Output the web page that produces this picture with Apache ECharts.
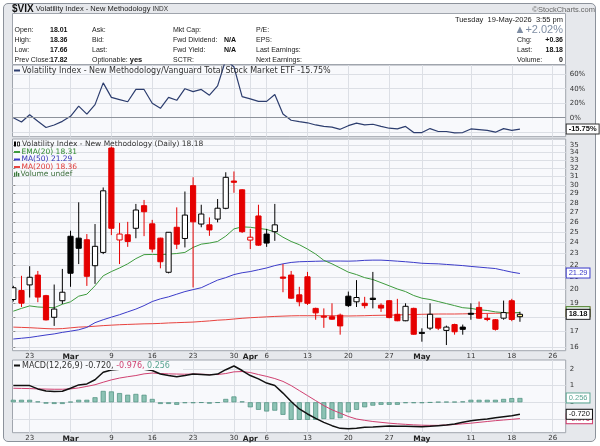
<!DOCTYPE html>
<html><head><meta charset="utf-8">
<script src="https://cdn.jsdelivr.net/npm/echarts@6.0.0/dist/echarts.min.js"></script>
<style>
html,body{margin:0;padding:0;background:#fff;}
#frame{position:absolute;left:3px;top:3px;width:593px;height:439px;background:#e6e8ec;border:1px solid #8c929b;border-radius:5px;box-sizing:border-box;}
#chart{position:absolute;left:0;top:0;width:600px;height:446px;}
</style></head><body>
<div id="frame"></div><div id="chart"></div>
<script>
// ---------- data ----------
const dates = ['2026-02-19','2026-02-20','2026-02-23','2026-02-24','2026-02-25','2026-02-26','2026-02-27',
'2026-03-02','2026-03-03','2026-03-04','2026-03-05','2026-03-06','2026-03-09','2026-03-10','2026-03-11','2026-03-12','2026-03-13',
'2026-03-16','2026-03-17','2026-03-18','2026-03-19','2026-03-20','2026-03-23','2026-03-24','2026-03-25','2026-03-26','2026-03-27',
'2026-03-30','2026-03-31','2026-04-01','2026-04-02','2026-04-06','2026-04-07','2026-04-08','2026-04-09','2026-04-10',
'2026-04-13','2026-04-14','2026-04-15','2026-04-16','2026-04-17','2026-04-20','2026-04-21','2026-04-22','2026-04-23','2026-04-24',
'2026-04-27','2026-04-28','2026-04-29','2026-04-30','2026-05-01','2026-05-04','2026-05-05','2026-05-06','2026-05-07','2026-05-08',
'2026-05-11','2026-05-12','2026-05-13','2026-05-14','2026-05-15','2026-05-18','2026-05-19'];
const futureDates = ['2026-05-20','2026-05-21','2026-05-22','2026-05-26','2026-05-27'];
const tickDates = ['2026-02-23','2026-03-02','2026-03-09','2026-03-16','2026-03-23','2026-03-30','2026-04-01','2026-04-06',
'2026-04-13','2026-04-20','2026-04-27','2026-05-01','2026-05-11','2026-05-18','2026-05-26'];
const tickLabels = ['23','Mar','9','16','23','30','Apr','6','13','20','27','May','11','18','26'];
const priceTicks = [16,17,18,19,20,21,22,23,24,25,26,27,28,29,30,31,32,33,34,35];
const ratioTicks = [-20,0,20,40,60];
const macdTicks = [-1,0,1,2];

const open  = [19.25,19.93,20.37,21.16,19.54,17.97,19.16,24.59,24.41,24.26,21.94,23.1,34.6,24.24,24.73,25.36,27.68,25.8,24.41,21.39,
25.46,24.38,29.91,25.78,25.7,26.28,27.4,30.45,29.43,24.23,26.6,24.8,25.03,21.0,21.16,19.6,21.02,18.6,18.05,18.01,
18.12,19.5,19.08,18.97,19.35,18.83,19.16,18.18,17.73,18.6,16.95,17.23,17.9,17.08,17.47,17.3,18.25,18.67,17.9,17.8,17.91,19.16,18.01];
const high  = [20.3,21.1,21.9,21.5,19.6,20.4,21.67,25.12,28.04,24.8,25.78,29.7,34.8,25.9,26.0,27.87,28.3,26.2,24.45,25.0,
27.5,29.24,30.9,27.78,26.45,28.4,31.5,31.6,29.5,25.3,27.78,25.3,27.87,22.08,21.5,20.22,21.42,18.65,18.6,18.97,
18.23,19.85,20.75,19.45,21.42,18.97,19.2,19.3,18.97,18.65,17.22,18.97,17.92,17.4,17.53,17.47,18.97,19.1,18.23,17.85,19.17,19.3,18.36];
const low   = [19.1,18.7,19.4,19.05,17.75,17.38,18.92,20.22,22.08,20.29,20.45,22.95,24.7,22.08,23.6,24.4,24.6,23.1,21.72,21.3,
23.4,23.55,20.17,25.46,24.63,25.95,27.3,29.1,24.9,23.4,23.7,23.6,24.16,19.8,19.3,18.75,18.85,17.8,17.25,17.8,
16.8,18.7,18.7,18.6,18.6,18.35,17.9,17.7,17.7,16.8,16.35,17.1,17.1,16.14,16.8,16.8,17.8,17.87,17.7,17.07,17.8,17.7,17.66];
const close = [20.15,18.98,20.98,19.43,17.79,18.55,19.8,21.31,23.47,21.06,23.65,29.32,25.36,24.8,24.1,27.22,27.04,23.4,22.28,24.97,
23.85,26.69,26.0,26.8,25.2,27.41,30.89,30.3,25.03,24.5,23.76,23.95,25.7,20.9,19.35,19.08,18.97,18.28,17.98,17.84,
17.38,18.8,19.4,18.8,19.25,18.62,17.95,17.73,18.75,16.83,16.9,18.18,17.23,17.3,16.99,17.15,18.18,17.91,17.82,17.15,18.3,17.82,18.18];

const ema20 = [18.4,18.6,18.78,18.7,18.67,18.65,18.9,19.08,19.5,19.65,20.3,21.1,21.45,21.75,22.1,22.55,22.9,22.92,22.9,22.95,
23.0,23.1,23.55,23.85,23.95,24.1,24.6,25.3,25.5,25.46,25.35,25.25,25.0,24.5,24.1,23.8,23.4,22.95,22.4,22.1,
21.75,21.4,21.2,20.95,20.8,20.55,20.3,20.05,19.85,19.55,19.35,19.25,19.1,18.95,18.8,18.65,18.6,18.5,18.45,18.35,18.3,18.28,18.31];
const ma50 = [16.52,16.57,16.62,16.7,16.78,16.85,16.95,17.03,17.12,17.28,17.6,17.8,17.98,18.15,18.35,18.55,18.8,19.1,19.3,19.45,
19.65,19.85,20.0,20.15,20.45,20.75,20.95,21.2,21.35,21.45,21.6,21.75,21.95,22.1,22.22,22.28,22.3,22.32,22.34,22.34,
22.34,22.33,22.35,22.4,22.42,22.42,22.38,22.33,22.28,22.22,22.15,22.12,22.1,22.05,22.0,21.95,21.88,21.82,21.76,21.7,21.55,21.4,21.29];
const ma200 = [17.3,17.28,17.26,17.23,17.2,17.18,17.2,17.25,17.3,17.32,17.36,17.4,17.43,17.46,17.48,17.5,17.52,17.53,17.55,17.58,
17.6,17.62,17.64,17.68,17.72,17.77,17.8,17.85,17.9,17.94,17.97,18.0,18.03,18.05,18.07,18.08,18.08,18.08,18.08,18.08,
18.07,18.06,18.07,18.08,18.1,18.11,18.12,18.13,18.15,18.16,18.18,18.19,18.2,18.2,18.2,18.21,18.22,18.23,18.24,18.25,18.26,18.28,18.3];
const ma200Last = 18.36;

const ratioPct = [0,-6,4,-5,-13.5,-10,-5,2,16,5,18,48,28,25,22,39,39,20,13,28,24,40,36,39,31,44,80,70,29,26,
22.5,22.5,32,5,-3.5,-5.5,-7,-10,-12,-13,-16,-11,-7.5,-10,-9,-12,-14.5,-15.5,-12,-20.5,-20.5,-15,-19,-19,-21,-20.5,
-15.5,-16.5,-17.5,-20,-15,-17.5,-15.75];

const macd = [1.0,1.0,1.0,0.8,0.68,0.64,0.66,0.84,1.04,1.1,1.35,1.8,1.93,1.97,2.0,2.0,1.97,1.9,1.69,1.6,
1.53,1.6,1.69,1.66,1.63,1.69,1.95,2.17,1.9,1.6,1.4,1.15,1.0,0.55,0.05,-0.4,-0.7,-0.96,-1.2,-1.4,
-1.56,-1.58,-1.55,-1.5,-1.48,-1.45,-1.42,-1.43,-1.44,-1.45,-1.46,-1.44,-1.4,-1.36,-1.3,-1.2,-1.1,-1.05,-1.0,-0.93,-0.86,-0.8,-0.72];
const macdSignal = [0.84,0.83,0.82,0.8,0.79,0.78,0.78,0.8,0.86,0.95,1.05,1.2,1.34,1.45,1.53,1.6,1.7,1.75,1.72,1.7,
1.69,1.68,1.69,1.68,1.66,1.66,1.72,1.82,1.84,1.78,1.66,1.55,1.42,1.25,1.0,0.7,0.4,0.1,-0.2,-0.45,
-0.65,-0.85,-1.0,-1.08,-1.15,-1.2,-1.25,-1.29,-1.32,-1.35,-1.37,-1.38,-1.38,-1.36,-1.33,-1.29,-1.25,-1.2,-1.15,-1.1,-1.06,-1.02,-0.976];
const macdHist = [0.15,0.15,0.15,0.05,-0.08,-0.1,-0.1,0.03,0.15,0.15,0.3,0.68,0.65,0.55,0.45,0.5,0.45,0.2,-0.1,-0.1,
-0.15,-0.05,-0.05,-0.03,-0.08,-0.03,0.2,0.35,0.05,-0.3,-0.45,-0.55,-0.5,-0.75,-1.05,-1.05,-1.05,-1.05,-1.0,-1.0,
-0.95,-0.6,-0.45,-0.3,-0.2,-0.15,-0.15,-0.15,-0.05,-0.05,-0.05,-0.02,0.02,0.03,0.03,0.05,0.15,0.15,0.15,0.15,0.2,0.25,0.256];

// ---------- build ----------
const FONT = 'DejaVu Sans', HFONT = 'Liberation Sans';
const RED = '#e50000', BLK = '#000000';
const GRIDC = '#dcdfe5';
const L = Math.log;
const n = dates.length, last = n - 1;
const axisDates = dates.concat(futureDates);
const tickIdx = tickDates.map(d => axisDates.indexOf(d));
const tickMap = {}; tickIdx.forEach((k, j) => { tickMap[k] = tickLabels[j]; });

// StockCharts colouring: red if close < previous close, hollow if close > open
const candleCol = close.map((c, i) => (i > 0 && c < close[i - 1]) ? RED : BLK);
const candleFill = close.map((c, i) => i === last ? '#fff59a' : (c < open[i] ? candleCol[i] : '#ffffff'));
const candleData = dates.map((d, i) => [i, L(open[i]), L(close[i]), L(low[i]), L(high[i])]);

function renderCandle(params, api) {
  const i = api.value(0);
  const pO = api.coord([i, api.value(1)]), pC = api.coord([i, api.value(2)]);
  const pL = api.coord([i, api.value(3)]), pH = api.coord([i, api.value(4)]);
  const k = params.dataIndex, col = candleCol[k];
  const x = pO[0];
  const top = Math.min(pO[1], pC[1]), bot = Math.max(pO[1], pC[1]);
  const hw = 2.6;
  return { type: 'group', children: [
    { type: 'line', shape: { x1: x, y1: pH[1], x2: x, y2: pL[1] }, style: { stroke: col, lineWidth: 1 } },
    { type: 'rect', shape: { x: x - hw, y: top, width: hw * 2, height: Math.max(bot - top, 1) },
      style: { fill: candleFill[k], stroke: col, lineWidth: 1 } }
  ] };
}
const xy = (arr, f) => arr.map((v, i) => [i, f ? f(v) : v]);

function flagItem(value, text, border, textColor, bold) {
  return { yAxis: value, lineStyle: { color: 'rgba(0,0,0,0)', width: 0 },
    label: { show: true, position: 'end', distance: 1, formatter: text, color: textColor,
      fontSize: 7.5, fontFamily: HFONT, fontWeight: bold ? 'bold' : 'normal', backgroundColor: '#ffffff',
      borderColor: border, borderWidth: 1, padding: [1, 2, 0, 2] } };
}
function flags(items) {
  return { silent: true, symbol: 'none', animation: false, z: 10, data: items };
}

const xLabelCommon = { customValues: tickIdx, margin: 2, fontSize: 7, color: '#333', fontFamily: FONT,
  formatter: v => { const t = tickMap[Math.round(v)] || ''; return /^[A-Z]/.test(t) ? '{m|' + t + '}' : t; },
  rich: { m: { fontWeight: 'bold', fontSize: 7.5, color: '#222', fontFamily: FONT } } };
function xAx(g, showLab) {
  return { type: 'value', gridIndex: g, min: -0.1, max: 67.6,
    axisLine: { show: false }, axisTick: { show: false, customValues: tickIdx },
    splitLine: { show: true, lineStyle: { color: GRIDC, width: 1 } },
    axisLabel: Object.assign({ show: showLab }, xLabelCommon) };
}
const yLab = { margin: 4, fontSize: 7, color: '#333', fontFamily: FONT };
const gridBase = { show: true, backgroundColor: '#f8f9fc', borderColor: '#a0a5ad', borderWidth: 1, left: 12.5, width: 553.2 };

const pct = ((close[last] / close[last - 1] - 1) * 100);
const chg = close[last] - close[last - 1];

const rowsY = [30, 40, 50, 60];
const LF = '8px ' + FONT, LF2 = '7.5px ' + FONT;
const gtxt = (text, x, y, opts) => Object.assign({ type: 'text', z: 100, silent: true,
  style: Object.assign({ text: text, x: x, y: y, fill: '#222', font: '7px ' + HFONT, verticalAlign: 'middle', align: 'left' }, opts || {}) });
const bold = { font: 'bold 7px ' + HFONT, align: 'right', fill: '#111' };
const graphics = [
  { type: 'rect', z: 1, silent: true, shape: { x: 12.5, y: 13.5, width: 553, height: 51 }, style: { fill: '#ffffff', stroke: '#a0a5ad', lineWidth: 1 } },
  gtxt('{b|$VIX} Volatility Index - New Methodology {s|INDX}', 12, 9, { font: '7.5px ' + HFONT,
    rich: { b: { fontWeight: 'bold', fontSize: 10, fontFamily: HFONT, fill: '#111' }, s: { fontSize: 6.5, fontFamily: HFONT, fill: '#333' } } }),
  gtxt('\u00a9StockCharts.com', 595, 9.5, { align: 'right', fill: '#666', font: '7.5px ' + HFONT }),
  gtxt('Tuesday  19-May-2026  3:55 pm', 563, 19.5, { align: 'right', font: '7.5px ' + HFONT }),
  gtxt('Open:', 14.5, rowsY[0]), gtxt('High:', 14.5, rowsY[1]), gtxt('Low:', 14.5, rowsY[2]), gtxt('Prev Close:', 14.5, rowsY[3]),
  gtxt(open[last].toFixed(2), 67.5, rowsY[0], bold),
  gtxt(high[last].toFixed(2), 67.5, rowsY[1], bold),
  gtxt(low[last].toFixed(2), 67.5, rowsY[2], bold),
  gtxt(close[last - 1].toFixed(2), 67.5, rowsY[3], bold),
  gtxt('Ask:', 92, rowsY[0]), gtxt('Bid:', 92, rowsY[1]), gtxt('Last:', 92, rowsY[2]),
  gtxt('Optionable: {b|yes}', 92, rowsY[3], { rich: { b: { fontWeight: 'bold', fontSize: 7.5, fontFamily: HFONT, fill: '#111' } } }),
  gtxt('Mkt Cap:', 173, rowsY[0]), gtxt('Fwd Dividend:', 173, rowsY[1]), gtxt('Fwd Yield:', 173, rowsY[2]), gtxt('SCTR:', 173, rowsY[3]),
  gtxt('N/A', 236, rowsY[1], bold),
  gtxt('N/A', 236, rowsY[2], bold),
  gtxt('P/E:', 256, rowsY[0]), gtxt('EPS:', 256, rowsY[1]), gtxt('Last Earnings:', 256, rowsY[2]), gtxt('Next Earnings:', 256, rowsY[3]),
  gtxt('\u25b2+' + pct.toFixed(2) + '%', 563, rowsY[0], { align: 'right', fill: '#7f8ea4', font: '11px ' + HFONT }),
  gtxt('Chg:', 517, rowsY[1]), gtxt('Last:', 517, rowsY[2]), gtxt('Volume:', 517, rowsY[3]),
  gtxt('+' + chg.toFixed(2), 563, rowsY[1], bold),
  gtxt(close[last].toFixed(2), 563, rowsY[2], bold),
  gtxt('0', 563, rowsY[3], bold),
  // ratio legend
  { type: 'line', z: 100, silent: true, shape: { x1: 14, y1: 70.5, x2: 20, y2: 70.5 }, style: { stroke: '#2c3d6e', lineWidth: 2 } },
  gtxt('Volatility Index - New Methodology/Vanguard Total Stock Market ETF ' + ratioPct[last].toFixed(2) + '%', 22, 70.5, { font: LF, fill: '#333' }),
  // main legend
  { type: 'rect', z: 100, silent: true, shape: { x: 14, y: 141.5, width: 2, height: 5 }, style: { fill: '#000' } },
  { type: 'rect', z: 100, silent: true, shape: { x: 17.5, y: 142, width: 2, height: 4 }, style: { fill: '#fff', stroke: '#000', lineWidth: 0.8 } },
  gtxt('Volatility Index - New Methodology (Daily) ' + close[last].toFixed(2), 22, 144.5, { font: LF2, fill: '#333' }),
  { type: 'line', z: 100, silent: true, shape: { x1: 14, y1: 152, x2: 20, y2: 152 }, style: { stroke: '#3d9b3d', lineWidth: 2 } },
  gtxt('EMA(20) ' + ema20[last].toFixed(2), 21.5, 152, { font: LF2, fill: '#2f8a2f' }),
  { type: 'line', z: 100, silent: true, shape: { x1: 14, y1: 159.5, x2: 20, y2: 159.5 }, style: { stroke: '#3b3bc9', lineWidth: 2 } },
  gtxt('MA(50) ' + ma50[last].toFixed(2), 21.5, 159.5, { font: LF2, fill: '#3434b8' }),
  { type: 'line', z: 100, silent: true, shape: { x1: 14, y1: 167, x2: 20, y2: 167 }, style: { stroke: '#e8433f', lineWidth: 2 } },
  gtxt('MA(200) ' + ma200Last.toFixed(2), 21.5, 167, { font: LF2, fill: '#e03a36' }),
  { type: 'rect', z: 100, silent: true, shape: { x: 14, y: 172.5, width: 1.3, height: 4 }, style: { fill: '#3b7a3b' } },
  { type: 'rect', z: 100, silent: true, shape: { x: 16, y: 171.5, width: 1.3, height: 5 }, style: { fill: '#3b7a3b' } },
  { type: 'rect', z: 100, silent: true, shape: { x: 18, y: 173, width: 1.3, height: 3.5 }, style: { fill: '#3b7a3b' } },
  gtxt('Volume undef', 20.5, 174.5, { font: LF2, fill: '#3b6e3b' }),
  // macd legend
  { type: 'rect', z: 99, silent: true, shape: { x: 13, y: 361, width: 170, height: 9 }, style: { fill: '#f8f9fc' } },
  { type: 'line', z: 100, silent: true, shape: { x1: 14, y1: 365.5, x2: 20, y2: 365.5 }, style: { stroke: '#111', lineWidth: 2 } },
  gtxt('MACD(12,26,9) ' + macd[last].toFixed(3) + ', {r|' + macdSignal[last].toFixed(3) + ',} {g|' + macdHist[last].toFixed(3) + '}', 22, 365.5,
    { font: LF, fill: '#333', rich: { r: { fill: '#d04070', fontSize: 8, fontFamily: FONT }, g: { fill: '#5aa592', fontSize: 8, fontFamily: FONT } } })
];

const option = {
  animation: false,
  grid: [
    Object.assign({ top: 65, height: 71.7 }, gridBase),
    Object.assign({ top: 139, height: 211.7 }, gridBase),
    Object.assign({ top: 360, height: 72.7 }, gridBase)
  ],
  xAxis: [xAx(0, false), xAx(1, true), xAx(2, true)],
  yAxis: [
    { type: 'value', gridIndex: 0, position: 'right', min: -26.2, max: 72.7,
      axisLine: { show: false }, axisTick: { show: false, customValues: ratioTicks },
      axisLabel: Object.assign({ customValues: ratioTicks, formatter: v => v + '%' }, yLab),
      splitLine: { show: true, lineStyle: { color: GRIDC } } },
    { type: 'value', gridIndex: 1, position: 'right', min: L(15.79), max: L(35.83),
      axisLine: { show: false },
      axisTick: { show: true, length: 2, customValues: priceTicks.map(v => L(v)), lineStyle: { color: '#888' } },
      axisLabel: Object.assign({ customValues: priceTicks.map(v => L(v)), formatter: v => String(Math.round(Math.exp(v))) }, yLab),
      splitLine: { show: true, lineStyle: { color: GRIDC } } },
    { type: 'value', gridIndex: 2, position: 'right', min: -1.82, max: 2.53,
      axisLine: { show: false }, axisTick: { show: false, customValues: macdTicks },
      axisLabel: Object.assign({ customValues: macdTicks, formatter: v => String(v) }, yLab),
      splitLine: { show: true, lineStyle: { color: GRIDC } } }
  ],
  graphic: graphics,
  series: [
    { type: 'line', name: 'ratio', xAxisIndex: 0, yAxisIndex: 0, data: xy(ratioPct), showSymbol: false,
      lineStyle: { color: '#2c3d6e', width: 1.2 }, z: 3,
      markLine: flags([
        { yAxis: 0, lineStyle: { color: '#8d929b', width: 1, type: 'solid' }, label: { show: false } },
        flagItem(ratioPct[last], ratioPct[last].toFixed(2) + '%', '#333', '#111', true)
      ]) },
    { type: 'line', name: 'MA200', xAxisIndex: 1, yAxisIndex: 1, data: xy(ma200, L), showSymbol: false,
      lineStyle: { color: '#e8433f', width: 1 }, z: 2 },
    { type: 'line', name: 'MA50', xAxisIndex: 1, yAxisIndex: 1, data: xy(ma50, L), showSymbol: false,
      lineStyle: { color: '#3b3bc9', width: 1 }, z: 2 },
    { type: 'line', name: 'EMA20', xAxisIndex: 1, yAxisIndex: 1, data: xy(ema20, L), showSymbol: false,
      lineStyle: { color: '#3d9b3d', width: 1 }, z: 2,
      markLine: flags([
        flagItem(L(ma200Last), ma200Last.toFixed(2), '#e8433f', '#e8433f', false),
        flagItem(L(ema20[last]), ema20[last].toFixed(2), '#3d9b3d', '#3d9b3d', false),
        flagItem(L(ma50[last]), ma50[last].toFixed(2), '#3b3bc9', '#3b3bc9', false),
        flagItem(L(close[last]), close[last].toFixed(2), '#111', '#111', true)
      ]) },
    { type: 'custom', name: 'VIX', xAxisIndex: 1, yAxisIndex: 1, data: candleData, renderItem: renderCandle,
      encode: { x: 0, y: [1, 2, 3, 4] }, clip: true, z: 4 },
    { type: 'bar', name: 'hist', xAxisIndex: 2, yAxisIndex: 2, data: xy(macdHist), barWidth: 5,
      itemStyle: { color: '#8cc2b4', borderColor: '#4b8e7d', borderWidth: 0.7 }, z: 2 },
    { type: 'line', name: 'signal', xAxisIndex: 2, yAxisIndex: 2, data: xy(macdSignal), showSymbol: false,
      lineStyle: { color: '#d04070', width: 1 }, z: 3 },
    { type: 'line', name: 'macd', xAxisIndex: 2, yAxisIndex: 2, data: xy(macd), showSymbol: false,
      lineStyle: { color: '#111', width: 1.5 }, z: 4,
      markLine: flags([
        flagItem(macdHist[last], macdHist[last].toFixed(3), '#5aa592', '#5aa592', false),
        flagItem(macdSignal[last], macdSignal[last].toFixed(3), '#d04070', '#d04070', false),
        flagItem(macd[last], macd[last].toFixed(3), '#111', '#111', false)
      ]) }
  ]
};
const chart = echarts.init(document.getElementById('chart'), null, { renderer: 'canvas' });
chart.setOption(option);
</script></body></html>
